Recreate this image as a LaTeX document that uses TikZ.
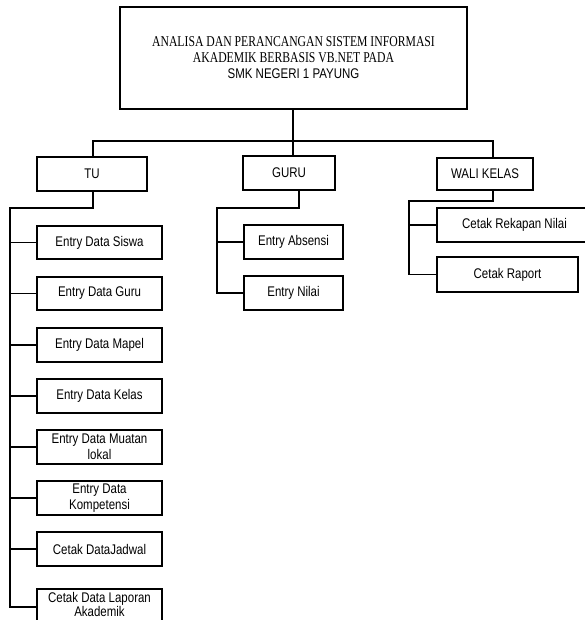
\documentclass[tikz,border=0pt]{standalone}
\usepackage{fontspec}
\setmainfont{Liberation Sans}[FakeStretch=0.82]
\newfontfamily\titleserif{Liberation Serif}[FakeStretch=0.78]
\tikzset{
  box/.style={draw, line width=1.1pt, inner sep=0pt, align=center,
    font=\fontsize{14}{16}\selectfont},
  link/.style={line width=1.1pt, line cap=rect}
}
% \bx{name}{x1}{y1}{x2}{y2}{text}: a box given by its corners
\newcommand\bx[6]{%
  \node[box, minimum width={(#4-#2)*1pt}, minimum height={(#5-#3)*1pt}]
    (#1) at ({(#2+#4)/2},{(#3+#5)/2}) {#6};}
\begin{document}
\begin{tikzpicture}[x=1pt, y=-1pt]
\useasboundingbox (0,0) rectangle (585,620);

% root
\bx{title}{120}{7}{467}{109}{%
  \titleserif\fontsize{15}{15}\selectfont ANALISA DAN PERANCANGAN SISTEM INFORMASI\\
  \titleserif\fontsize{15}{15}\selectfont AKADEMIK BERBASIS VB.NET PADA\\
  \normalfont\fontsize{14}{15}\selectfont SMK NEGERI 1 PAYUNG}

% second level
\bx{tu}{37}{157}{147}{191}{TU}
\bx{guru}{243}{156}{335}{190}{GURU}
\bx{wali}{437}{158}{533}{190}{WALI KELAS}

% TU menu
\bx{siswa}{37}{226}{162}{259}{Entry Data Siswa}
\bx{dguru}{37}{277}{162}{310}{Entry Data Guru}
\bx{mapel}{37}{328}{162}{362}{Entry Data Mapel}
\bx{kelas}{37}{379}{162}{413}{Entry Data Kelas}
\bx{muatan}{37}{430}{162}{464}{Entry Data Muatan\\lokal}
\bx{kompetensi}{37}{481}{162}{515}{Entry Data\\Kompetensi}
\bx{jadwal}{37}{532}{162}{566}{Cetak DataJadwal}
% last box runs past the lower edge; its text sits a little higher
\bx{laporan}{37}{589}{162}{623}{}
\node[font=\fontsize{14}{14}\selectfont, align=center, inner sep=0pt]
  (laporanText) at (99.5,604) {Cetak Data Laporan\\Akademik};

% GURU menu
\bx{absensi}{244}{225}{343}{259}{Entry Absensi}
\bx{nilai}{244}{276}{343}{310}{Entry Nilai}

% WALI KELAS menu
\bx{rekapan}{437}{208}{592}{242}{Cetak Rekapan Nilai}
\bx{raport}{437}{257}{578}{292}{Cetak Raport}

% bus below the root
\coordinate (bus) at (293,141);
\coordinate (tuTop) at (93,157);
\coordinate (guruTop) at (293,156);
\coordinate (waliTop) at (493,158);
\draw[link] (title.south -| bus) -- (bus);
\draw[link] (tuTop) |- (bus) -| (waliTop);
\draw[link] (guruTop) -- (bus);

% TU branches
\coordinate (tuBot) at (93,191);
\coordinate (tuRail) at (10,208);
\coordinate (tuEnd) at (10,607);
\draw[link] (tuBot) |- (tuRail) -- (tuEnd);
\foreach \n in {siswa,dguru,mapel,kelas,muatan,kompetensi,jadwal}
  \draw[link] (\n.west -| tuRail) -- (\n.west);
\draw[link] (tuEnd) -- (tuEnd -| laporan.west);

% GURU branches
\coordinate (guruBot) at (299,190);
\coordinate (guruRail) at (217,208);
\draw[link] (guruBot) |- (guruRail) |- (nilai.west);
\draw[link] (absensi.west -| guruRail) -- (absensi.west);

% WALI KELAS branches
\coordinate (waliBot) at (493,190);
\coordinate (waliRail) at (409,201);
\draw[link] (waliBot) |- (waliRail) |- (raport.west);
\draw[link] (rekapan.west -| waliRail) -- (rekapan.west);
\end{tikzpicture}
\end{document}
